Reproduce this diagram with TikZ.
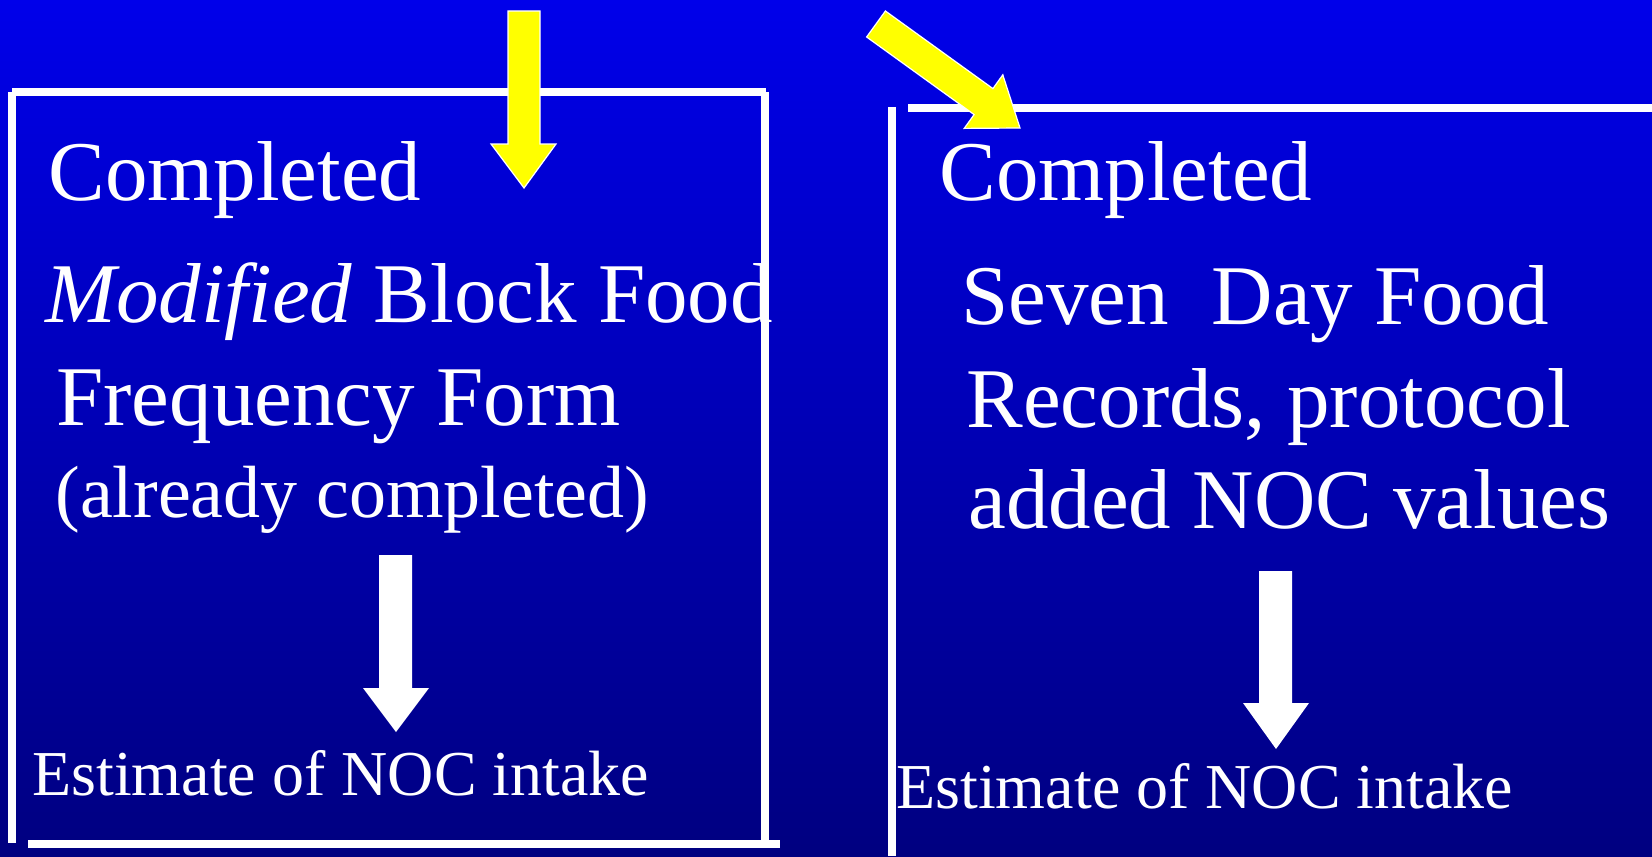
\documentclass[tikz,border=0pt]{standalone}
\usepackage{fontspec}
\setmainfont{Liberation Serif}
\definecolor{bgtop}{RGB}{0,0,234}
\definecolor{bgbot}{RGB}{0,0,128}
\definecolor{yel}{RGB}{255,255,0}
\begin{document}
\begin{tikzpicture}[x=0.5pt,y=-0.5pt,
  frameline/.style={draw=white,line width=4pt},
  yarrow/.style={fill=yel,draw=white,line width=0.6pt,line join=miter},
  warrow/.style={fill=white},
  txt/.style={text=white,anchor=base west,inner sep=0pt},
  bigtxt/.style={txt,font=\fontsize{42.5}{51}\selectfont},
  midtxt/.style={txt,font=\fontsize{37}{44}\selectfont},
  smalltxt/.style={txt,font=\fontsize{32}{38}\selectfont}]
\shade[top color=bgtop,bottom color=bgbot] (0,0) rectangle (1652,856);
\useasboundingbox (0,0) rectangle (1652,856);

% left frame
\draw[frameline] (12,92) -- (766,92);
\draw[frameline] (12,92) -- (12,843);
\draw[frameline] (765,92) -- (765,840);
\draw[frameline] (28,844) -- (780,844);

% right frame
\draw[frameline] (892,107) -- (892,856);
\draw[frameline] (908,108) -- (1652,108);

% yellow arrows
\draw[yarrow] (508,11) -- (540,11) -- (540,144) -- (556,144) -- (524,188)
  -- (491,144) -- (508,144) -- cycle;
\draw[yarrow] (885.4,11) -- (992.9,88.6) -- (1002.8,74.8) -- (1020,128)
  -- (964.2,128.4) -- (974.1,114.6) -- (866.6,37) -- cycle;

% white arrows
\fill[warrow] (379,555) -- (412,555) -- (412,688) -- (429,688) -- (396,732)
  -- (363,688) -- (379,688) -- cycle;
\fill[warrow] (1259,571) -- (1292,571) -- (1292,703) -- (1309,703) -- (1276,749)
  -- (1243,703) -- (1259,703) -- cycle;

% left texts
\node[bigtxt] (lc) at (48,200) {Completed};
\node[bigtxt] (lm) at (45,322) {\textit{Modified} Block Food};
\node[bigtxt] (lf) at (56,425) {Frequency Form};
\node[midtxt] (la) at (55,517) {(already completed)};
\node[smalltxt] (le) at (32,795) {Estimate of NOC intake};

% right texts
\node[bigtxt] (rc) at (939,200) {Completed};
\node[bigtxt] (rs) at (961,324) {Seven\ \ Day Food};
\node[bigtxt] (rr) at (966,427) {Records, protocol};
\node[bigtxt] (ra) at (968,528) {added NOC values};
\node[smalltxt] (re) at (896,808) {Estimate of NOC intake};
\end{tikzpicture}
\end{document}
